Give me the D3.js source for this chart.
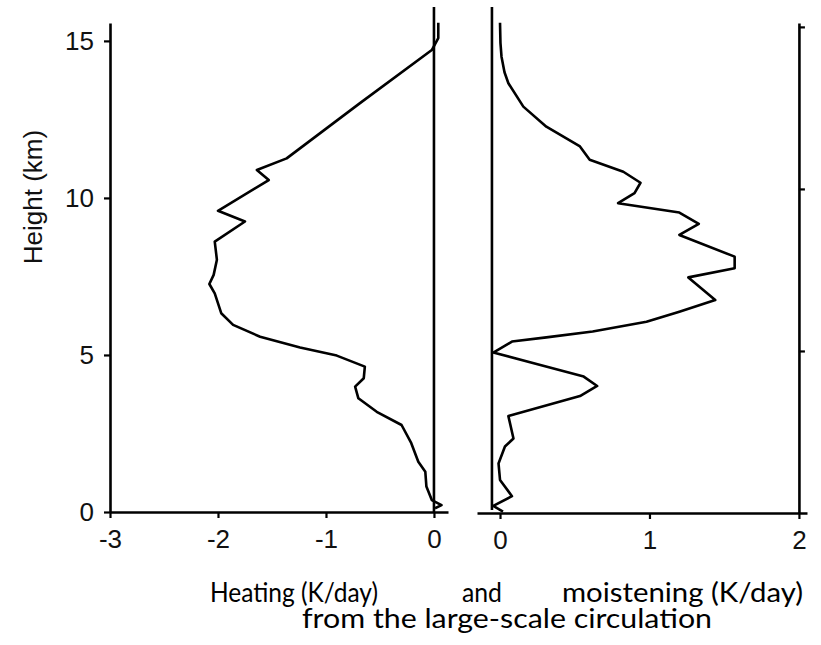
<!DOCTYPE html>
<html>
<head>
<meta charset="utf-8">
<script src="https://cdn.jsdelivr.net/npm/d3@7"></script>
<style>
  body { margin: 0; background: #fff; }
  svg { display: block; }
</style>
</head>
<body>
<script>
var width = 821, height = 645;

// heating profile (K/day) vs height (km)
var heatHeight = [15.58, 15.09, 14.71, 13.02, 11.26, 10.89, 10.57, 9.59, 9.25, 8.61, 8.03,
  7.55, 7.26, 6.96, 6.33, 5.96, 5.58, 5.24, 4.98, 4.63, 4.26, 3.99, 3.62, 3.19, 2.77,
  2.19, 1.60, 1.28, 0.81, 0.38, 0.22, 0.12];
var heating = [0.04, 0.04, -0.02, -0.685, -1.364, -1.64, -1.53, -2.0, -1.75, -2.03, -2.01,
  -2.04, -2.08, -2.03, -1.97, -1.86, -1.61, -1.24, -0.90, -0.64, -0.65, -0.73, -0.70, -0.53, -0.30,
  -0.21, -0.145, -0.08, -0.07, -0.02, 0.07, 0.01];

// moistening profile (K/day) vs height (km), right panel
var moistHeight = [15.13, 14.5, 14.08, 13.6, 13.26, 12.54, 11.92, 11.31, 10.90, 10.53, 10.19,
  9.87, 9.56, 9.27, 8.92, 8.58, 7.91, 7.55, 7.27, 6.57, 6.21, 5.90, 5.60, 5.42, 5.29,
  4.95, 4.57, 4.21, 3.92, 3.61, 2.99, 2.30, 2.05, 1.53, 1.02, 0.52, 0.22, 0.04];
var moistening = [0.0, 0.003, 0.01, 0.03, 0.056, 0.156, 0.31, 0.535, 0.60, 0.825, 0.94,
  0.90, 0.79, 1.20, 1.33, 1.20, 1.57, 1.57, 1.26, 1.44, 1.20, 0.98, 0.62, 0.31, 0.08,
  -0.045, 0.27, 0.56, 0.65, 0.535, 0.056, 0.09, 0.033, -0.01, 0.0, 0.08, -0.045, 0.02];

var heightTicks = [0, 5, 10, 15];
var heatTicks = [-3, -2, -1, 0];
var moistTicks = [0, 1, 2];

var svg = d3.select("body").append("svg")
  .attr("width", width)
  .attr("height", height);

// scales, left panel
var xHeat = d3.scaleLinear().domain([-3, 0.13]).range([110, 448]);
var yHeat = d3.scaleLinear().domain([0, 15.57]).range([512, 23]);

// scales, right panel
var xMoist = d3.scaleLinear().domain([-0.154, 2.054]).range([477, 807]);
var yMoist = d3.scaleLinear().domain([0, 15.12]).range([513, 23]);

var font = "'Liberation Sans', Arial, Helvetica, sans-serif";
var plain = function (d) { return String(d); }; // keeps the plain hyphen in "-3"

function styleAxis(g) {
  g.selectAll("path.domain").attr("stroke", "#000").attr("stroke-width", 2.6);
  g.selectAll(".tick line").attr("stroke", "#000").attr("stroke-width", 2.2);
  g.selectAll(".tick text").attr("fill", "#111")
    .style("font-family", font).style("font-size", "26px");
}

// left panel axes
svg.append("g")
  .attr("transform", "translate(110,0)")
  .call(d3.axisLeft(yHeat).tickValues(heightTicks).tickFormat(plain)
    .tickSize(6).tickPadding(10).tickSizeOuter(0))
  .call(styleAxis);

svg.append("g")
  .attr("transform", "translate(0,512)")
  .call(d3.axisBottom(xHeat).tickValues(heatTicks).tickFormat(plain)
    .tickSize(6).tickPadding(12).tickSizeOuter(0))
  .call(styleAxis);

// zero line, left panel
svg.append("line")
  .attr("x1", xHeat(0)).attr("x2", xHeat(0))
  .attr("y1", 7).attr("y2", 512)
  .attr("stroke", "#000").attr("stroke-width", 2.6);

// right panel axes
svg.append("g")
  .attr("transform", "translate(0,513)")
  .call(d3.axisBottom(xMoist).tickValues(moistTicks).tickFormat(plain)
    .tickSize(6).tickPadding(12).tickSizeOuter(0))
  .call(styleAxis);

svg.append("g")
  .attr("transform", "translate(" + xMoist(2) + ",0)")
  .call(d3.axisRight(yMoist).tickValues([5, 10, 15]).tickSize(6).tickFormat("").tickSizeOuter(0))
  .call(styleAxis);

// zero line, right panel (sits a little left of 0)
svg.append("line")
  .attr("x1", xMoist(-0.054)).attr("x2", xMoist(-0.054))
  .attr("y1", 7).attr("y2", 510)
  .attr("stroke", "#000").attr("stroke-width", 2.6);

// profiles
var heatLine = d3.line()
  .x(function (d, i) { return xHeat(heating[i]); })
  .y(function (d, i) { return yHeat(heatHeight[i]); });

svg.append("path")
  .datum(heating)
  .attr("d", heatLine)
  .attr("fill", "none")
  .attr("stroke", "#000")
  .attr("stroke-width", 2.6)
  .attr("stroke-linejoin", "round");

var moistLine = d3.line()
  .x(function (d, i) { return xMoist(moistening[i]); })
  .y(function (d, i) { return yMoist(moistHeight[i]); });

svg.append("path")
  .datum(moistening)
  .attr("d", moistLine)
  .attr("fill", "none")
  .attr("stroke", "#000")
  .attr("stroke-width", 2.6)
  .attr("stroke-linejoin", "round");

// y label
svg.append("text")
  .attr("transform", "translate(42,197) rotate(-90)")
  .attr("text-anchor", "middle")
  .style("font-family", font)
  .style("font-size", "26px")
  .attr("fill", "#111")
  .text("Height (km)");

// caption (justified in the original)
var capFont = "Lato, 'Open Sans', sans-serif";
var caption = [
  { t: "Heating (K/day)", x: 210, y: 602, w: 168 },
  { t: "and", x: 462, y: 602, w: 40 },
  { t: "moistening (K/day)", x: 562, y: 602, w: 241 },
  { t: "from the large-scale circulation", x: 302, y: 628, w: 410 }
];
svg.selectAll("text.cap")
  .data(caption)
  .enter().append("text")
  .attr("class", "cap")
  .attr("x", function (d) { return d.x; })
  .attr("y", function (d) { return d.y; })
  .attr("textLength", function (d) { return d.w; })
  .attr("lengthAdjust", "spacingAndGlyphs")
  .style("font-family", capFont)
  .style("font-size", "26px")
  .attr("fill", "#000")
  .text(function (d) { return d.t; });
</script>
</body>
</html>
